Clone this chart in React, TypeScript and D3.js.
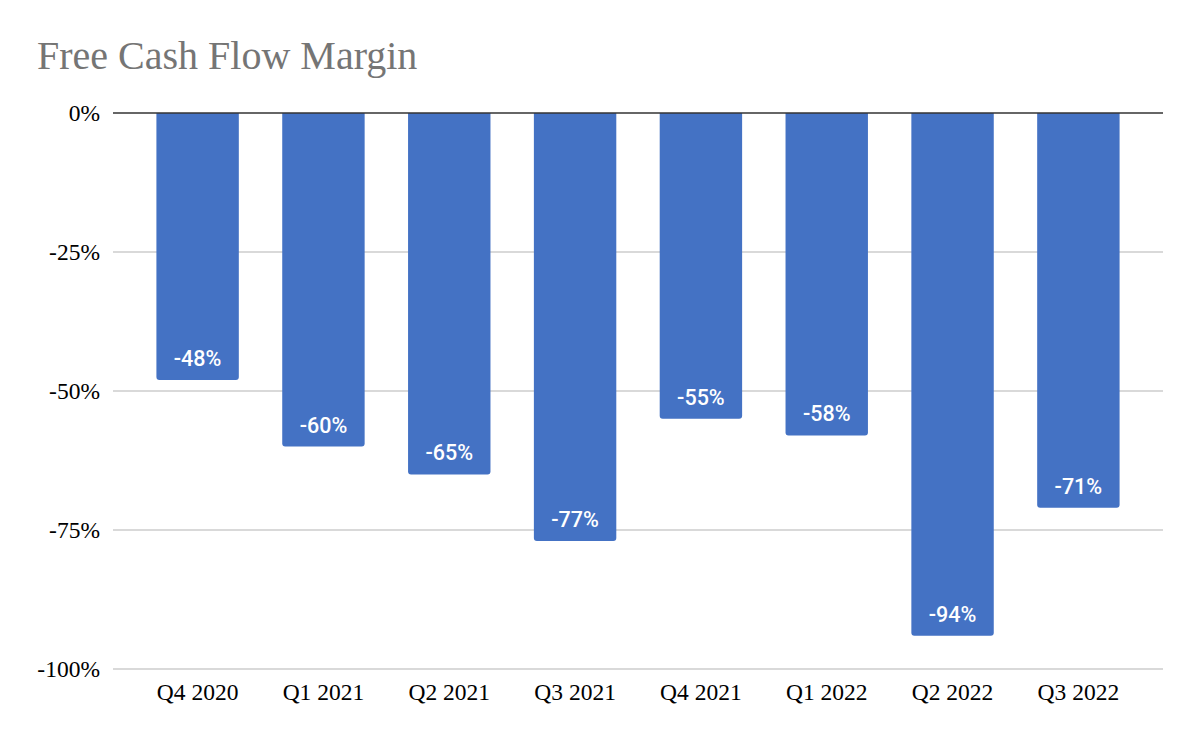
import React from "react";
import * as d3 from "d3";

const categories = ["Q4 2020", "Q1 2021", "Q2 2021", "Q3 2021", "Q4 2021", "Q1 2022", "Q2 2022", "Q3 2022"];
const margins = [-48, -60, -65, -77, -55, -58, -94, -71];
const yTicks = [0, -25, -50, -75, -100];

const W = 1200;
const H = 742;
const plotLeft = 113;
const plotRight = 1163;
const plotTop = 113;
const plotBottom = 669;

export default function App() {
  const x = d3.scaleBand<string>().domain(categories).range([plotLeft, plotRight]).paddingInner(0.345).paddingOuter(0.345);
  const y = d3.scaleLinear().domain([-100, 0]).range([plotBottom, plotTop]);
  const bw = x.bandwidth();
  const r = 3;
  const fmt = (v: number) => `${Math.round(v)}%`;

  const barPath = (x0: number, y0: number, y1: number) => {
    const p = d3.path();
    p.moveTo(x0, y0);
    p.lineTo(x0 + bw, y0);
    p.lineTo(x0 + bw, y1 - r);
    p.quadraticCurveTo(x0 + bw, y1, x0 + bw - r, y1);
    p.lineTo(x0 + r, y1);
    p.quadraticCurveTo(x0, y1, x0, y1 - r);
    p.closePath();
    return p.toString();
  };

  const serif = "'Liberation Serif', 'Times New Roman', serif";

  return (
    <svg width={W} height={H} style={{ position: "absolute", left: 0, top: 0, background: "#fff" }}>
      <rect x={0} y={0} width={W} height={H} fill="#fff" />
      <text x={37} y={69} fontFamily={serif} fontSize={40} fill="#757575">
        Free Cash Flow Margin
      </text>
      {yTicks.map((t) => (
        <g key={t}>
          {t !== 0 && (
            <line x1={plotLeft} x2={plotRight} y1={y(t)} y2={y(t)} stroke="#cccccc" strokeWidth={1.5} />
          )}
          <text x={100} y={y(t)} dy="0.33em" textAnchor="end" fontFamily={serif} fontSize={23.5} fill="#000">
            {t}%
          </text>
        </g>
      ))}
      {categories.map((c, i) => {
        const x0 = x(c)!;
        const v = margins[i];
        return (
          <g key={c}>
            <path d={barPath(x0, y(0), y(v))} fill="#4472c4" />
            <text
              x={x0 + bw / 2}
              y={y(v) - 14}
              textAnchor="middle"
              fontFamily="Roboto, 'Open Sans', sans-serif"
              fontSize={21.5}
              fontWeight={500}
              fill="#fff"
            >
              {fmt(v)}
            </text>
            <text x={x0 + bw / 2} y={700} textAnchor="middle" fontFamily={serif} fontSize={23.5} fill="#000">
              {c}
            </text>
          </g>
        );
      })}
      <line x1={plotLeft} x2={plotRight} y1={y(0)} y2={y(0)} stroke="#333" strokeWidth={1.5} />
    </svg>
  );
}
